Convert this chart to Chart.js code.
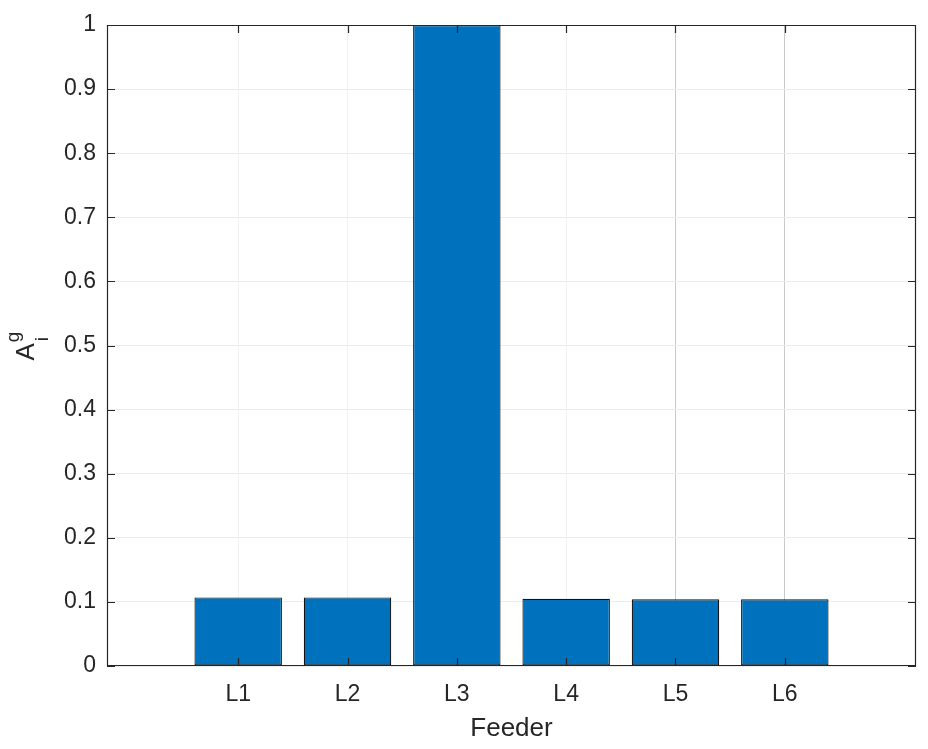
<!DOCTYPE html>
<html>
<head>
<meta charset="utf-8">
<script src="https://cdn.jsdelivr.net/npm/chart.js@4.4.0/dist/chart.umd.min.js"></script>
<style>
  html, body { margin: 0; padding: 0; background: #fff; }
  #wrap { width: 928px; height: 749px; }
</style>
</head>
<body>
<div id="wrap"><canvas id="chart" width="928" height="749"></canvas></div>
<script>
// feeders and their A_i^g values
const feeders = ["L1", "L2", "L3", "L4", "L5", "L6"];
const positions = [1, 2, 3, 4, 5, 6];
const values = [0.107, 0.107, 1.0, 0.105, 0.104, 0.104];
const yTicks = [0, 0.1, 0.2, 0.3, 0.4, 0.5, 0.6, 0.7, 0.8, 0.9, 1];

const FONT = 'Arial, "Liberation Sans", Helvetica, sans-serif';
const INK = "#262626";

// matlab style box + inward ticks, drawn over the bars
const boxPlugin = {
  id: "box",
  afterDatasetsDraw(chart) {
    const { ctx, chartArea: a, scales } = chart;
    const len = 8;
    ctx.save();
    ctx.strokeStyle = INK;
    ctx.lineWidth = 1.2;
    ctx.beginPath();
    ctx.rect(a.left + 0.5, a.top + 0.5, a.right - a.left - 1, a.bottom - a.top - 1);
    for (const v of positions) {
      const x = Math.round(scales.x.getPixelForValue(v)) + 0.5;
      ctx.moveTo(x, a.bottom);
      ctx.lineTo(x, a.bottom - len);
      ctx.moveTo(x, a.top);
      ctx.lineTo(x, a.top + len);
    }
    for (const v of yTicks) {
      const y = Math.round(scales.y.getPixelForValue(v)) + 0.5;
      ctx.moveTo(a.left, y);
      ctx.lineTo(a.left + len, y);
      ctx.moveTo(a.right, y);
      ctx.lineTo(a.right - len, y);
    }
    ctx.stroke();
    ctx.restore();
  }
};

// y label A_i^g with sub and superscript
const yTitlePlugin = {
  id: "yTitle",
  afterDraw(chart) {
    const { ctx, chartArea: a } = chart;
    const cy = (a.top + a.bottom) / 2;
    ctx.save();
    ctx.translate(34, cy);
    ctx.rotate(-Math.PI / 2);
    ctx.fillStyle = INK;
    ctx.textBaseline = "alphabetic";
    ctx.textAlign = "left";
    ctx.font = "26px " + FONT;
    const w = ctx.measureText("A").width;
    const x0 = -15;
    ctx.fillText("A", x0, 0);
    ctx.font = "19px " + FONT;
    ctx.fillText("g", x0 + w + 1, -15);
    ctx.fillText("i", x0 + w + 2, 14);
    ctx.restore();
  }
};

new Chart(document.getElementById("chart"), {
  type: "bar",
  data: {
    datasets: [{
      data: positions.map((p, i) => ({ x: p, y: values[i] })),
      backgroundColor: "#0072BD",
      borderColor: "#111111",
      borderWidth: 1.2,
      borderSkipped: false,
      barPercentage: 0.8,
      categoryPercentage: 1
    }]
  },
  options: {
    responsive: false,
    animation: false,
    layout: { padding: { top: 25, right: 12, left: 0, bottom: 0 } },
    plugins: { legend: { display: false }, tooltip: { enabled: false } },
    scales: {
      x: {
        type: "linear",
        min: -0.2,
        max: 7.2,
        offset: false,
        afterFit(scale) { scale.height = 83; },
        afterBuildTicks(scale) { scale.ticks = positions.map(v => ({ value: v })); },
        grid: {
          offset: false,
          drawTicks: false,
          color: ctx => (ctx.tick && ctx.tick.value >= 5 ? "#c9c9c9" : "#f0f0f0")
        },
        border: { display: false },
        ticks: {
          padding: 15,
          color: INK,
          font: { family: FONT, size: 23 },
          callback: v => feeders[positions.indexOf(v)] || ""
        },
        title: {
          display: true,
          text: "Feeder",
          color: INK,
          font: { family: FONT, size: 26 },
          padding: { top: 0, bottom: 5 }
        }
      },
      y: {
        min: 0,
        max: 1,
        afterFit(scale) { scale.width = 107; },
        afterBuildTicks(scale) { scale.ticks = yTicks.map(v => ({ value: v })); },
        grid: { drawTicks: false, color: "#ebebeb" },
        border: { display: false },
        ticks: {
          padding: 11,
          color: INK,
          font: { family: FONT, size: 23 },
          callback: v => String(Math.round(v * 10) / 10)
        }
      }
    }
  },
  plugins: [boxPlugin, yTitlePlugin]
});
</script>
</body>
</html>
